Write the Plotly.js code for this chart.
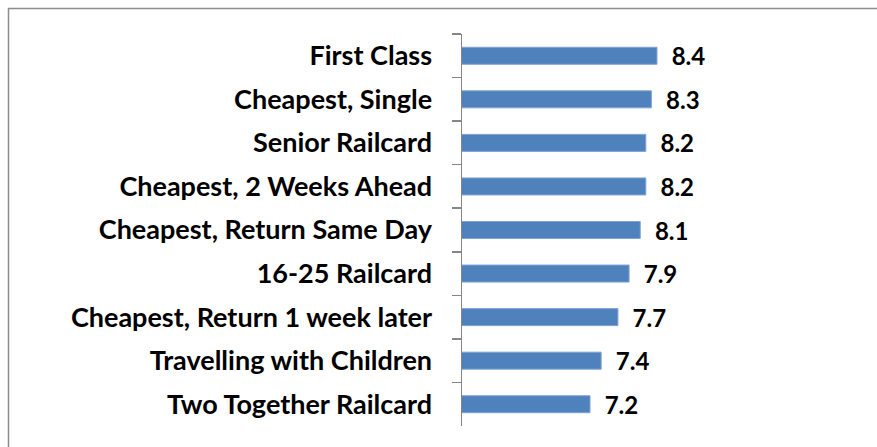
<!DOCTYPE html>
<html>
<head>
<meta charset="utf-8">
<script src="https://cdn.plot.ly/plotly-3.0.1.min.js"></script>
<style>html,body{margin:0;padding:0;background:#fff;}#chart{width:877px;height:447px;}</style>
</head>
<body>
<div id="chart"></div>
<script>
var categories = ["First Class","Cheapest, Single","Senior Railcard","Cheapest, 2 Weeks Ahead","Cheapest, Return Same Day","16-25 Railcard","Cheapest, Return 1 week later","Travelling with Children","Two Together Railcard"];
var values = [8.4, 8.3, 8.2, 8.2, 8.1, 7.9, 7.7, 7.4, 7.2];
var valueLabels = ["8.4","8.3","8.2","8.2","8.1","7.9","7.7","7.4","7.2"];

var L = 462, T = 34, B = 21, R = 10;
var W = 877 - L - R, H = 447 - T - B;
function px(x){ return (x - L) / W; }
function py(y){ return (447 - B - y) / H; }

var trace = {
  type: 'bar',
  orientation: 'h',
  y: categories,
  x: values,
  text: valueLabels,
  texttemplate: '\u00a0\u00a0%{text}',
  textposition: 'outside',
  constraintext: 'none',
  cliponaxis: false,
  textfont: {family: 'Lato, "Open Sans", sans-serif', size: 24, color: '#000', weight: 'bold'},
  marker: {color: '#4f81bd', line: {color: '#7fa3d3', width: 1}},
  hoverinfo: 'none'
};

var layout = {
  width: 877, height: 447,
  margin: {l: L, r: R, t: T, b: B},
  paper_bgcolor: '#fff', plot_bgcolor: '#fff',
  showlegend: false,
  bargap: 0.61,
  xaxis: {range: [4.906, 4.906 + W / 55.8], visible: false, fixedrange: true},
  yaxis: {
    autorange: 'reversed',
    showline: true, linecolor: '#868686', linewidth: 1.5,
    ticks: 'outside', tickson: 'boundaries', ticklen: 9, tickcolor: '#868686', tickwidth: 1.5,
    showgrid: false, zeroline: false,
    tickfont: {family: 'Lato, "Open Sans", sans-serif', size: 27, color: '#000', weight: 'bold'},
    ticklabelstandoff: 23,
    fixedrange: true
  },
  shapes: [
    {type: 'line', xref: 'paper', yref: 'paper', x0: px(8), x1: px(880), y0: py(8.5), y1: py(8.5), line: {color: '#8c8c8c', width: 1.5}},
    {type: 'line', xref: 'paper', yref: 'paper', x0: px(8.5), x1: px(8.5), y0: py(8), y1: py(450), line: {color: '#8c8c8c', width: 1.5}}
  ]
};

Plotly.newPlot('chart', [trace], layout, {displayModeBar: false, staticPlot: true});
</script>
</body>
</html>
